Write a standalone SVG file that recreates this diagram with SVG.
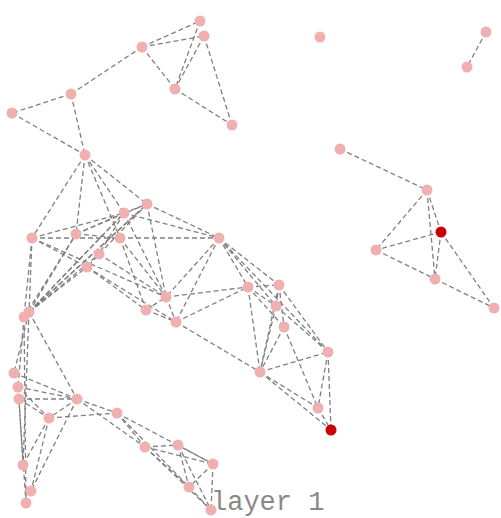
<svg xmlns="http://www.w3.org/2000/svg" width="501" height="518" viewBox="0 0 501 518">
<style>
.e{stroke:#808080;stroke-width:1.3;stroke-dasharray:5,3;fill:none}
.n{fill:#f0b0b0}
.r{fill:#cc0000}
.lbl{font-family:"Liberation Mono","DejaVu Sans Mono",monospace;font-size:27px;fill:#888888}
</style>
<rect width="501" height="518" fill="#ffffff"/>
<text class="lbl" x="211" y="510">layer 1</text>
<g id="edges">
<line class="e" x1="142" y1="47" x2="200" y2="21"/>
<line class="e" x1="142" y1="47" x2="204" y2="36"/>
<line class="e" x1="142" y1="47" x2="175" y2="89"/>
<line class="e" x1="200" y1="21" x2="175" y2="89"/>
<line class="e" x1="204" y1="36" x2="175" y2="89"/>
<line class="e" x1="204" y1="36" x2="232" y2="125"/>
<line class="e" x1="175" y1="89" x2="232" y2="125"/>
<line class="e" x1="142" y1="47" x2="71" y2="94"/>
<line class="e" x1="71" y1="94" x2="12" y2="113"/>
<line class="e" x1="71" y1="94" x2="85" y2="155"/>
<line class="e" x1="12" y1="113" x2="85" y2="155"/>
<line class="e" x1="486" y1="32" x2="467" y2="67"/>
<line class="e" x1="340" y1="149" x2="427" y2="190"/>
<line class="e" x1="427" y1="190" x2="376" y2="250"/>
<line class="e" x1="427" y1="190" x2="441" y2="232"/>
<line class="e" x1="427" y1="190" x2="435" y2="279"/>
<line class="e" x1="441" y1="232" x2="376" y2="250"/>
<line class="e" x1="441" y1="232" x2="435" y2="279"/>
<line class="e" x1="376" y1="250" x2="435" y2="279"/>
<line class="e" x1="441" y1="232" x2="494" y2="308"/>
<line class="e" x1="435" y1="279" x2="494" y2="308"/>
<line class="e" x1="85" y1="155" x2="32" y2="238"/>
<line class="e" x1="85" y1="155" x2="76" y2="234"/>
<line class="e" x1="85" y1="155" x2="124" y2="213"/>
<line class="e" x1="85" y1="155" x2="147" y2="204"/>
<line class="e" x1="85" y1="155" x2="120" y2="238"/>
<line class="e" x1="32" y1="238" x2="124" y2="213"/>
<line class="e" x1="32" y1="238" x2="120" y2="238"/>
<line class="e" x1="32" y1="238" x2="87" y2="267"/>
<line class="e" x1="32" y1="238" x2="166" y2="297"/>
<line class="e" x1="32" y1="238" x2="29" y2="312"/>
<line class="e" x1="32" y1="238" x2="24" y2="317"/>
<line class="e" x1="76" y1="234" x2="124" y2="213"/>
<line class="e" x1="76" y1="234" x2="147" y2="204"/>
<line class="e" x1="76" y1="234" x2="120" y2="238"/>
<line class="e" x1="120" y1="238" x2="219" y2="238"/>
<line class="e" x1="124" y1="213" x2="147" y2="204"/>
<line class="e" x1="124" y1="213" x2="219" y2="238"/>
<line class="e" x1="147" y1="204" x2="219" y2="238"/>
<line class="e" x1="124" y1="213" x2="99" y2="254"/>
<line class="e" x1="147" y1="204" x2="87" y2="267"/>
<line class="e" x1="29" y1="312" x2="76" y2="234"/>
<line class="e" x1="24" y1="317" x2="76" y2="234"/>
<line class="e" x1="29" y1="312" x2="124" y2="213"/>
<line class="e" x1="24" y1="317" x2="124" y2="213"/>
<line class="e" x1="29" y1="312" x2="147" y2="204"/>
<line class="e" x1="24" y1="317" x2="147" y2="204"/>
<line class="e" x1="29" y1="312" x2="87" y2="267"/>
<line class="e" x1="24" y1="317" x2="99" y2="254"/>
<line class="e" x1="147" y1="204" x2="166" y2="297"/>
<line class="e" x1="124" y1="213" x2="166" y2="297"/>
<line class="e" x1="120" y1="238" x2="166" y2="297"/>
<line class="e" x1="120" y1="238" x2="146" y2="310"/>
<line class="e" x1="99" y1="254" x2="166" y2="297"/>
<line class="e" x1="87" y1="267" x2="146" y2="310"/>
<line class="e" x1="87" y1="267" x2="176" y2="322"/>
<line class="e" x1="146" y1="310" x2="176" y2="322"/>
<line class="e" x1="146" y1="310" x2="166" y2="297"/>
<line class="e" x1="166" y1="297" x2="176" y2="322"/>
<line class="e" x1="219" y1="238" x2="166" y2="297"/>
<line class="e" x1="219" y1="238" x2="176" y2="322"/>
<line class="e" x1="166" y1="297" x2="248" y2="287"/>
<line class="e" x1="176" y1="322" x2="248" y2="287"/>
<line class="e" x1="176" y1="322" x2="260" y2="372"/>
<line class="e" x1="219" y1="238" x2="248" y2="287"/>
<line class="e" x1="219" y1="238" x2="279" y2="285"/>
<line class="e" x1="219" y1="238" x2="276" y2="306"/>
<line class="e" x1="219" y1="238" x2="328" y2="352"/>
<line class="e" x1="248" y1="287" x2="279" y2="285"/>
<line class="e" x1="248" y1="287" x2="276" y2="306"/>
<line class="e" x1="248" y1="287" x2="284" y2="327"/>
<line class="e" x1="248" y1="287" x2="260" y2="372"/>
<line class="e" x1="279" y1="285" x2="276" y2="306"/>
<line class="e" x1="279" y1="285" x2="284" y2="327"/>
<line class="e" x1="279" y1="285" x2="260" y2="372"/>
<line class="e" x1="279" y1="285" x2="328" y2="352"/>
<line class="e" x1="276" y1="306" x2="260" y2="372"/>
<line class="e" x1="276" y1="306" x2="328" y2="352"/>
<line class="e" x1="284" y1="327" x2="260" y2="372"/>
<line class="e" x1="284" y1="327" x2="318" y2="408"/>
<line class="e" x1="260" y1="372" x2="328" y2="352"/>
<line class="e" x1="260" y1="372" x2="318" y2="408"/>
<line class="e" x1="260" y1="372" x2="331" y2="430"/>
<line class="e" x1="328" y1="352" x2="318" y2="408"/>
<line class="e" x1="328" y1="352" x2="331" y2="430"/>
<line class="e" x1="318" y1="408" x2="331" y2="430"/>
<line class="e" x1="29" y1="312" x2="14" y2="373"/>
<line class="e" x1="24" y1="317" x2="18" y2="387"/>
<line class="e" x1="29" y1="312" x2="23" y2="465"/>
<line class="e" x1="24" y1="317" x2="26" y2="503"/>
<line class="e" x1="29" y1="312" x2="77" y2="399"/>
<line class="e" x1="14" y1="373" x2="77" y2="399"/>
<line class="e" x1="18" y1="387" x2="77" y2="399"/>
<line class="e" x1="19" y1="399" x2="77" y2="399"/>
<line class="e" x1="18" y1="387" x2="49" y2="418"/>
<line class="e" x1="19" y1="399" x2="49" y2="418"/>
<line class="e" x1="77" y1="399" x2="49" y2="418"/>
<line class="e" x1="77" y1="399" x2="117" y2="413"/>
<line class="e" x1="49" y1="418" x2="117" y2="413"/>
<line class="e" x1="19" y1="399" x2="23" y2="465"/>
<line class="e" x1="18" y1="387" x2="26" y2="503"/>
<line class="e" x1="49" y1="418" x2="23" y2="465"/>
<line class="e" x1="49" y1="418" x2="31" y2="491"/>
<line class="e" x1="77" y1="399" x2="31" y2="491"/>
<line class="e" x1="77" y1="399" x2="145" y2="447"/>
<line class="e" x1="117" y1="413" x2="145" y2="447"/>
<line class="e" x1="117" y1="413" x2="213" y2="464"/>
<line class="e" x1="117" y1="413" x2="189" y2="487"/>
<line class="e" x1="145" y1="447" x2="178" y2="445"/>
<line class="e" x1="145" y1="447" x2="213" y2="464"/>
<line class="e" x1="145" y1="447" x2="189" y2="487"/>
<line class="e" x1="145" y1="447" x2="211" y2="510"/>
<line class="e" x1="178" y1="445" x2="213" y2="464"/>
<line class="e" x1="178" y1="445" x2="189" y2="487"/>
<line class="e" x1="178" y1="445" x2="211" y2="510"/>
<line class="e" x1="213" y1="464" x2="189" y2="487"/>
<line class="e" x1="213" y1="464" x2="211" y2="510"/>
<line class="e" x1="189" y1="487" x2="211" y2="510"/>
</g>
<g id="nodes">
<circle id="nA" class="n" cx="200" cy="21" r="5.5"/>
<circle id="nB" class="n" cx="204" cy="36" r="5.5"/>
<circle id="nC" class="n" cx="142" cy="47" r="5.5"/>
<circle id="nD" class="n" cx="175" cy="89" r="5.5"/>
<circle id="nE" class="n" cx="232" cy="125" r="5.5"/>
<circle id="nF" class="n" cx="71" cy="94" r="5.5"/>
<circle id="nG" class="n" cx="12" cy="113" r="5.5"/>
<circle id="nH" class="n" cx="85" cy="155" r="5.5"/>
<circle id="nI" class="n" cx="320" cy="37" r="5.5"/>
<circle id="nJ" class="n" cx="486" cy="32" r="5.5"/>
<circle id="nK" class="n" cx="467" cy="67" r="5.5"/>
<circle id="nL" class="n" cx="340" cy="149" r="5.5"/>
<circle id="nM" class="n" cx="427" cy="190" r="5.5"/>
<circle id="nN" class="r" cx="441" cy="232" r="5.5"/>
<circle id="nO" class="n" cx="376" cy="250" r="5.5"/>
<circle id="nP" class="n" cx="435" cy="279" r="5.5"/>
<circle id="nQ" class="n" cx="494" cy="308" r="5.5"/>
<circle id="nR" class="n" cx="32" cy="238" r="5.5"/>
<circle id="nS" class="n" cx="76" cy="234" r="5.5"/>
<circle id="nT" class="n" cx="124" cy="213" r="5.5"/>
<circle id="nU" class="n" cx="147" cy="204" r="5.5"/>
<circle id="nV" class="n" cx="120" cy="238" r="5.5"/>
<circle id="nW" class="n" cx="99" cy="254" r="5.5"/>
<circle id="nX" class="n" cx="87" cy="267" r="5.5"/>
<circle id="nY" class="n" cx="219" cy="238" r="5.5"/>
<circle id="nZ1" class="n" cx="29" cy="312" r="5.5"/>
<circle id="nZ2" class="n" cx="24" cy="317" r="5.5"/>
<circle id="nAA" class="n" cx="166" cy="297" r="5.5"/>
<circle id="nAB" class="n" cx="146" cy="310" r="5.5"/>
<circle id="nAC" class="n" cx="176" cy="322" r="5.5"/>
<circle id="nAD" class="n" cx="248" cy="287" r="5.5"/>
<circle id="nAE" class="n" cx="279" cy="285" r="5.5"/>
<circle id="nAF" class="n" cx="276" cy="306" r="5.5"/>
<circle id="nAG" class="n" cx="284" cy="327" r="5.5"/>
<circle id="nAH" class="n" cx="328" cy="352" r="5.5"/>
<circle id="nAI" class="n" cx="260" cy="372" r="5.5"/>
<circle id="nAJ" class="n" cx="318" cy="408" r="5.5"/>
<circle id="nAK" class="r" cx="331" cy="430" r="5.5"/>
<circle id="nBA" class="n" cx="14" cy="373" r="5.5"/>
<circle id="nBB" class="n" cx="18" cy="387" r="5.5"/>
<circle id="nBC" class="n" cx="19" cy="399" r="5.5"/>
<circle id="nBD" class="n" cx="77" cy="399" r="5.5"/>
<circle id="nBE" class="n" cx="49" cy="418" r="5.5"/>
<circle id="nBF" class="n" cx="117" cy="413" r="5.5"/>
<circle id="nBG" class="n" cx="145" cy="447" r="5.5"/>
<circle id="nBH" class="n" cx="178" cy="445" r="5.5"/>
<circle id="nBI" class="n" cx="213" cy="464" r="5.5"/>
<circle id="nBJ" class="n" cx="189" cy="487" r="5.5"/>
<circle id="nBK" class="n" cx="211" cy="510" r="5.5"/>
<circle id="nBL" class="n" cx="23" cy="465" r="5.5"/>
<circle id="nBM" class="n" cx="31" cy="491" r="5.5"/>
<circle id="nBN" class="n" cx="26" cy="503" r="5.5"/>
</g>
</svg>
